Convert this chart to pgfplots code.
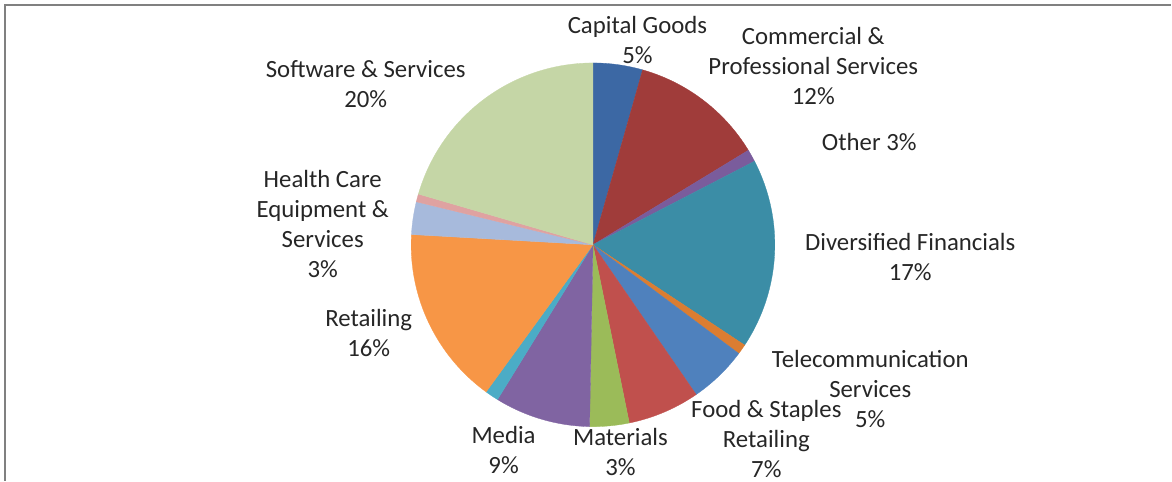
\documentclass[border=0pt]{standalone}
\usepackage{pgfplots}
\usepackage{pgfplotstable}
\pgfplotsset{compat=1.18}
\usepackage{fontspec}
\setmainfont{Carlito}

% slice colours, clockwise from 12 o'clock
\definecolor{slice0}{HTML}{3C68A4}
\definecolor{slice1}{HTML}{A03C3A}
\definecolor{slice2}{HTML}{7A5C9C}
\definecolor{slice3}{HTML}{3B8DA6}
\definecolor{slice4}{HTML}{DB7D32}
\definecolor{slice5}{HTML}{4F81BD}
\definecolor{slice6}{HTML}{C0504D}
\definecolor{slice7}{HTML}{9BBB59}
\definecolor{slice8}{HTML}{8064A2}
\definecolor{slice9}{HTML}{4BACC6}
\definecolor{slice10}{HTML}{F79646}
\definecolor{slice11}{HTML}{A7BADC}
\definecolor{slice12}{HTML}{DFA2A1}
\definecolor{slice13}{HTML}{C5D6A6}

% share of each slice in percent
\pgfplotstableread{
name value
CapitalGoods 4.4
Commercial 11.9
OtherA 1.1
DiversifiedFinancials 16.9
OtherB 0.9
Telecommunication 5.2
FoodStaples 6.4
Materials 3.5
Media 8.5
OtherC 1.2
Retailing 15.9
HealthCare 2.9
OtherD 0.7
Software 20.5
}\piedata

\def\cx{593.5}
\def\cy{245}
\def\rr{182}

\begin{document}
\begin{tikzpicture}
\begin{axis}[
    width=1172bp, height=481bp, scale only axis,
    xmin=0, xmax=1172, ymin=0, ymax=481,
    y dir=reverse,
    hide axis, clip=false,
]
\path (0,0) rectangle (1172,481);
\draw[black!50, line width=2bp] (5,481) -- (5,5) -- (1172,5);

\gdef\cum{0}
\pgfplotsforeachungrouped \i in {0,...,13}{%
    \pgfplotstablegetelem{\i}{value}\of\piedata
    \pgfmathsetmacro\angA{\cum*3.6}
    \pgfmathsetmacro\angB{(\cum+\pgfplotsretval)*3.6}
    \pgfmathsetmacro\newcum{\cum+\pgfplotsretval}
    \xdef\cum{\newcum}
    \edef\temp{\noexpand\addplot[fill=slice\i, draw=slice\i, line width=0.3bp,
        domain=\angA:\angB, samples=60, variable=\noexpand\t]
        ({\cx+\rr*sin(\noexpand\t)}, {\cy-\rr*cos(\noexpand\t)})
        -- (\cx,\cy) -- cycle;}
    \temp
}

\tikzset{lbl/.style={align=center, inner sep=0pt, text=black!85,
    font=\fontsize{24.8bp}{30bp}\selectfont}}
\node[lbl] at (638,40) {Capital Goods\\5\%};
\node[lbl] at (814,66) {Commercial \&\\Professional Services\\12\%};
\node[lbl] at (870,142) {Other 3\%};
\node[lbl] at (911,257) {Diversified Financials\\17\%};
\node[lbl] at (871,389) {Telecommunication\\Services\\5\%};
\node[lbl] at (767,439) {Food \& Staples\\Retailing\\7\%};
\node[lbl] at (621,452) {Materials\\3\%};
\node[lbl] at (504,450) {Media\\9\%};
\node[lbl] at (369,333) {Retailing\\16\%};
\node[lbl] at (323,224) {Health Care\\Equipment \&\\Services\\3\%};
\node[lbl] at (366,84) {Software \& Services\\20\%};
\end{axis}
\end{tikzpicture}
\end{document}
